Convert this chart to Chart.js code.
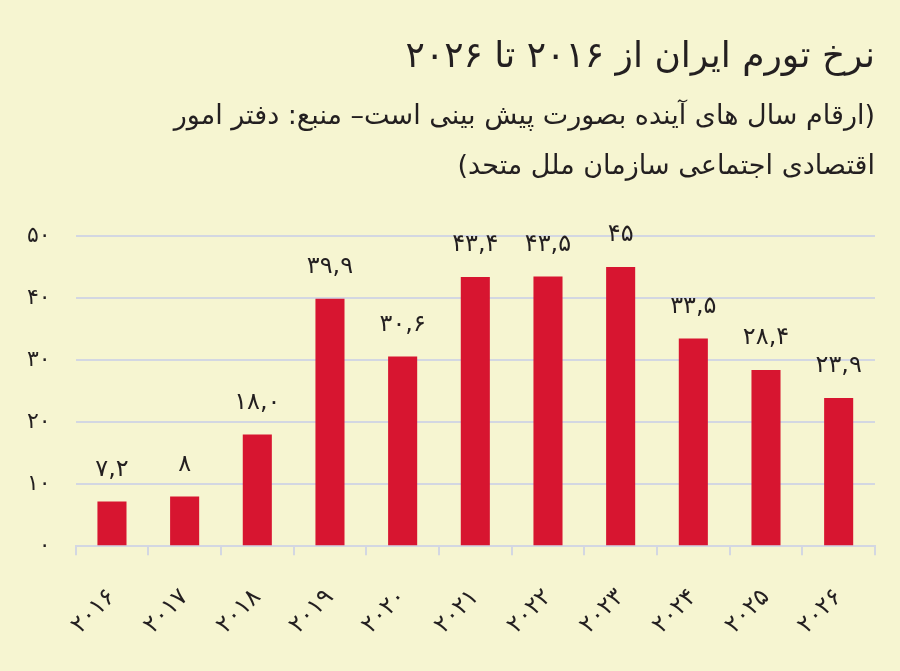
<!DOCTYPE html>
<html lang="fa">
<head>
<meta charset="utf-8">
<script src="https://cdn.jsdelivr.net/npm/chart.js@4/dist/chart.umd.min.js"></script>
<style>
    html, body { margin: 0; padding: 0; background: #f6f5d1; }
    #wrap { width: 900px; height: 671px; position: relative; }
    #myChart { direction: rtl; }
</style>
</head>
<body>
<div id="wrap"><canvas id="myChart"></canvas></div>
<script>
    // داده ها
    const years = ['۲۰۱۶', '۲۰۱۷', '۲۰۱۸', '۲۰۱۹', '۲۰۲۰', '۲۰۲۱', '۲۰۲۲', '۲۰۲۳', '۲۰۲۴', '۲۰۲۵', '۲۰۲۶'];
    const inflation = [7.2, 8, 18.0, 39.9, 30.6, 43.4, 43.5, 45, 33.5, 28.4, 23.9];
    const valueText = ['۷,۲', '۸', '۱۸,۰', '۳۹,۹', '۳۰,۶', '۴۳,۴', '۴۳,۵', '۴۵', '۳۳,۵', '۲۸,۴', '۲۳,۹'];
    const yTicks = [0, 10, 20, 30, 40, 50];

    const titleText = 'نرخ تورم ایران از ۲۰۱۶ تا ۲۰۲۶';
    const subtitleLines = [
        '(ارقام سال های آینده بصورت پیش بینی است– منبع: دفتر امور',
        'اقتصادی اجتماعی سازمان ملل متحد)'
    ];

    const faDigits = '۰۱۲۳۴۵۶۷۸۹';
    function toFa(n) {
        return String(n).replace(/[0-9]/g, d => faDigits[d]);
    }

    const fontName = '"DejaVu Sans", sans-serif';
    const textColor = '#231f20';
    const gridColor = '#d3d7e2';

    // برچسب مقدار بالای هر ستون
    const barValues = {
        id: 'barValues',
        afterDatasetsDraw(chart) {
            const ctx = chart.ctx;
            const meta = chart.getDatasetMeta(0);
            ctx.save();
            ctx.font = '24px ' + fontName;
            ctx.fillStyle = textColor;
            ctx.textAlign = 'center';
            ctx.textBaseline = 'bottom';
            meta.data.forEach((bar, i) => {
                ctx.fillText(valueText[i], bar.x, bar.y - 20);
            });
            ctx.restore();
        }
    };

    const ctx = document.getElementById('myChart');

    new Chart(ctx, {
        type: 'bar',
        data: {
            labels: years,
            datasets: [{
                label: 'نرخ تورم',
                data: inflation,
                backgroundColor: '#d71530',
                borderWidth: 0,
                categoryPercentage: 1,
                barPercentage: 0.4
            }]
        },
        options: {
            responsive: true,
            maintainAspectRatio: false,
            animation: false,
            layout: {
                padding: { left: 2, right: 25, top: 0, bottom: 3 }
            },
            plugins: {
                legend: { display: false },
                tooltip: { enabled: false },
                title: {
                    display: true,
                    text: titleText,
                    align: 'end',
                    color: textColor,
                    font: { family: fontName, size: 36, weight: 'normal' },
                    padding: { top: 36, bottom: 9 }
                },
                subtitle: {
                    display: true,
                    text: subtitleLines,
                    align: 'end',
                    color: textColor,
                    font: { family: fontName, size: 27, weight: 'normal', lineHeight: 1.85 },
                    padding: { top: 4, bottom: 44 }
                }
            },
            scales: {
                x: {
                    grid: {
                        display: true,
                        drawOnChartArea: false,
                        drawTicks: true,
                        tickLength: 9,
                        color: gridColor,
                        lineWidth: 2
                    },
                    border: { display: true, color: gridColor, width: 2 },
                    ticks: {
                        color: textColor,
                        font: { family: fontName, size: 24 },
                        minRotation: 45,
                        maxRotation: 45,
                        padding: 28
                    }
                },
                y: {
                    min: 0,
                    max: 50,
                    afterBuildTicks(axis) {
                        axis.ticks = yTicks.map(v => ({ value: v }));
                    },
                    grid: {
                        color: gridColor,
                        lineWidth: 2,
                        drawTicks: false
                    },
                    border: { display: false },
                    ticks: {
                        color: textColor,
                        font: { family: fontName, size: 22 },
                        padding: 25,
                        callback: v => toFa(v)
                    }
                }
            }
        },
        plugins: [barValues]
    });
</script>
</body>
</html>
